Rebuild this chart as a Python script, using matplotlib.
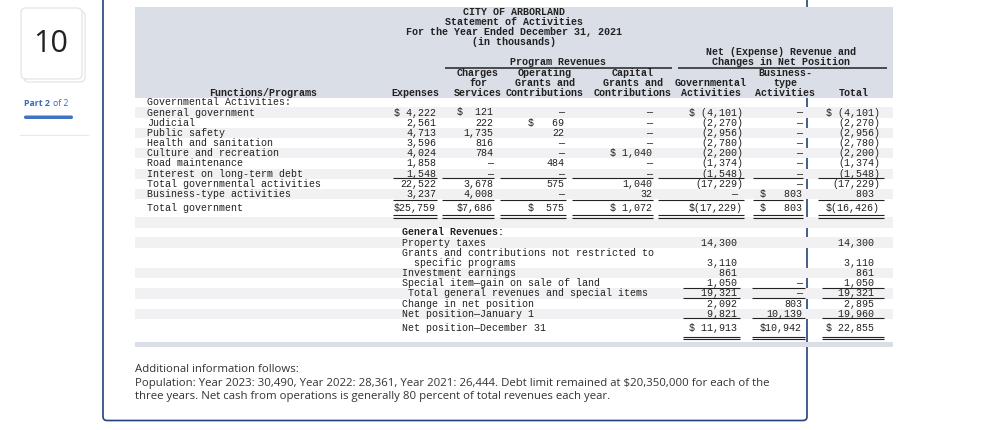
import matplotlib.pyplot as plt
from matplotlib.patches import Rectangle, FancyBboxPatch

# ---- statement data (in thousands); 0 shows as a dash, None as blank ----
title_lines = ["CITY OF ARBORLAND", "Statement of Activities",
               "For the Year Ended December 31, 2021", "(in thousands)"]

gov_labels = ["General government", "Judicial", "Public safety", "Health and sanitation",
              "Culture and recreation", "Road maintenance", "Interest on long-term debt"]
gov_expenses = [4222, 2561, 4713, 3596, 4024, 1858, 1548]
gov_charges = [121, 222, 1735, 816, 784, 0, 0]
gov_operating = [0, 69, 22, 0, 0, 484, 0]
gov_capital = [0, 0, 0, 0, 1040, 0, 0]
gov_net_gov = [-4101, -2270, -2956, -2780, -2200, -1374, -1548]
gov_net_bta = [0, 0, 0, 0, 0, 0, 0]
gov_net_total = [-4101, -2270, -2956, -2780, -2200, -1374, -1548]

total_gov_row = ["Total governmental activities", 22522, 3678, 575, 1040, -17229, 0, -17229]
bta_row = ["Business-type activities", 3237, 4008, 0, 32, 0, 803, 803]
grand_row = ["Total government", 25759, 7686, 575, 1072, -17229, 803, -16426]

gen_labels = ["Property taxes", "Grants and contributions not restricted to",
              "  specific programs", "Investment earnings",
              "Special item\u2014gain on sale of land",
              " Total general revenues and special items",
              "Change in net position", "Net position\u2014January 1",
              "Net position\u2014December 31"]
gen_gov = [14300, None, 3110, 861, 1050, 19321, 2092, 9821, 11913]
gen_bta = [None, None, None, None, 0, 0, 803, 10139, 10942]
gen_total = [14300, None, 3110, 861, 1050, 19321, 2895, 19960, 22855]

info_lines = ["Additional information follows:",
              "Population: Year 2023: 30,490, Year 2022: 28,361, Year 2021: 26,444. "
              "Debt limit remained at $20,350,000 for each of the",
              "three years. Net cash from operations is generally 80 percent of total revenues each year."]

# ---- layout ----
MONO = "Liberation Mono"
FS = 7.2
INK = "#222222"
HEAD_BG = "#dadee7"
STRIPE = "#f1f1f3"
NAVY = "#24437a"

# right edge (px), field width (chars), hanging-paren column
cols = [(436, 7, False), (493, 6, False), (564, 6, False), (652, 7, False),
        (743, 9, True), (802, 7, False), (880, 9, True)]
ul_upper = [(393, 437), (442, 494), (500, 566), (572, 653), (658, 744), (753, 803), (818, 884)]
ul_lower = [(683, 740), (752, 805), (822, 884)]


def fmt(v, width, dollar, paren):
    if v is None:
        return ""
    if v == 0:
        s = "\u2014"
    elif v < 0:
        s = "({:,})".format(-v)
    else:
        s = "{:,}".format(v)
    if paren and not s.endswith(")"):
        s += " "
    if dollar:
        s = "$" + s.rjust(width - 1)
    return s


fig = plt.figure(figsize=(9.87, 4.30), dpi=100)
ax = fig.add_axes([0, 0, 1, 1])
ax.set_xlim(0, 987)
ax.set_ylim(430, 0)
ax.axis("off")


def txt(x, y, s, ha="left", bold=False, **kw):
    ax.text(x, y, s, ha=ha, va="center", family=MONO, fontsize=FS, color=INK,
            fontweight="bold" if bold else "normal", zorder=5, **kw)


def hline(x0, x1, y, double=False, lw=0.8):
    for dy in ([0, 2.6] if double else [0]):
        ax.plot([x0, x1], [y + dy, y + dy], color=INK, lw=lw, zorder=5,
                solid_capstyle="butt")


def stripe(y):
    ax.add_patch(Rectangle((135, y - 5.1), 758, 10.2, color=STRIPE, lw=0, zorder=2))


# ---- left panel ----
ax.add_patch(FancyBboxPatch((24, 11), 61, 71, boxstyle="round,pad=0,rounding_size=5",
                            fc="white", ec="#e2e2e2", lw=0.8, zorder=1))
ax.add_patch(FancyBboxPatch((21, 8), 61, 71, boxstyle="round,pad=0,rounding_size=5",
                            fc="white", ec="#e2e2e2", lw=0.8, zorder=2))
ax.text(51, 44, "10", ha="center", va="center", family="Open Sans", fontsize=22,
        color="#222222", zorder=3)
ax.text(24, 104, "Part 2", ha="left", va="center", family="Open Sans", fontsize=6.3,
        fontweight="bold", color="#3a6cb4")
ax.text(53, 104, "of 2", ha="left", va="center", family="Open Sans", fontsize=6.3,
        color="#3a6cb4")
ax.add_patch(FancyBboxPatch((24, 115.5), 49, 3.5, boxstyle="round,pad=0,rounding_size=1.7",
                            fc="#3f74c4", ec="none"))
ax.plot([20, 88], [135, 135], color="#e8e8e8", lw=0.8)

# ---- card border (top edge off the picture) ----
ax.add_patch(FancyBboxPatch((103, -30), 704, 450.5, boxstyle="round,pad=0,rounding_size=4",
                            fc="none", ec=NAVY, lw=1.2, zorder=1))

# ---- header ----
ax.add_patch(Rectangle((135, 7), 758, 90.5, color=HEAD_BG, lw=0, zorder=2))
for i, line in enumerate(title_lines):
    txt(514, 12.3 + 10 * i, line, ha="center", bold=True)
txt(781, 51.7, "Net (Expense) Revenue and", ha="center", bold=True)
txt(781, 61.7, "Changes in Net Position", ha="center", bold=True)
txt(558, 61.7, "Program Revenues", ha="center", bold=True)
hline(445, 672, 67.7, lw=1.1)
hline(678, 887, 67.7, lw=1.1)
head_cols = [(263, ["", "", "Functions/Programs"]), (415, ["", "", "Expenses"]),
             (478, ["Charges", "for", "Services"]),
             (545, ["Operating", "Grants and", "Contributions"]),
             (633, ["Capital", "Grants and", "Contributions"]),
             (711, ["", "Governmental", "Activities"]),
             (785, ["Business-", "type", "Activities"]), (854, ["", "", "Total"])]
for cx, lines in head_cols:
    for i, line in enumerate(lines):
        if line:
            txt(cx, 73.3 + 10 * i, line, ha="center", bold=True)

# ---- upper section ----
LX = 147
pitch = 10.2
y_top = 102.3
txt(LX, y_top, "Governmental Activities:")
gov_cols = [gov_expenses, gov_charges, gov_operating, gov_capital,
            gov_net_gov, gov_net_bta, gov_net_total]
upper_rows = [[gov_labels[i]] + [c[i] for c in gov_cols] for i in range(len(gov_labels))]
upper_rows += [total_gov_row, bta_row]
seen = [False] * len(cols)
for r, row in enumerate(upper_rows):
    y = y_top + pitch * (r + 1)
    if r % 2 == 0:
        stripe(y)
    txt(LX, y, row[0])
    for c, (xr, w, paren) in enumerate(cols):
        v = row[c + 1]
        dollar = (not seen[c]) and v not in (None, 0)
        if dollar:
            seen[c] = True
        txt(xr, y, fmt(v, w, dollar, paren), ha="right")
y_last = y_top + pitch * len(upper_rows)
for x0, x1 in ul_upper:
    hline(x0, x1, y_top + pitch * (len(upper_rows) - 2) + 4.4)
    hline(x0, x1, y_last + 6.0)
y_grand = y_last + 13.6
txt(LX, y_grand, grand_row[0])
for c, (xr, w, paren) in enumerate(cols):
    txt(xr, y_grand, fmt(grand_row[c + 1], w, True, paren), ha="right")
for x0, x1 in ul_upper:
    hline(x0, x1, y_grand + 7.5, double=True)

# ---- general revenues ----
stripe(222.5)
GX = 402
y_gen = 232.3
txt(GX, y_gen, "General Revenues:", bold=True)
low_cols = [cols[4], cols[5], cols[6]]
shaded = [True, False, False, True, False, True, False, True, False]
rows_y = []
for r, label in enumerate(gen_labels):
    y = y_gen + pitch * (r + 1)
    if r == len(gen_labels) - 1:
        y += 4.2
    rows_y.append(y)
    if shaded[r]:
        stripe(y)
    txt(GX, y, label)
    last = r == len(gen_labels) - 1
    for (xr, w, paren), vals in zip(low_cols, [gen_gov, gen_bta, gen_total]):
        txt(xr, y, fmt(vals[r], w, last, paren), ha="right")
ul_rows = {4: [0, 1, 2], 5: [0, 1, 2], 7: [0, 1, 2]}
for r, which in ul_rows.items():
    for k in which:
        hline(ul_lower[k][0], ul_lower[k][1], rows_y[r] + 4.4)
for x0, x1 in ul_lower:
    hline(x0, x1, rows_y[-1] + 8.2, double=True)
ax.add_patch(Rectangle((135, 342), 758, 5, color=HEAD_BG, lw=0, zorder=2))

# ---- additional information ----
for i, line in enumerate(info_lines):
    ax.text(135, 370 + 13.5 * i, line, ha="left", va="center", family="Open Sans",
            fontsize=8.2, color="#333333", zorder=5)

fig.savefig("out.png", dpi=100)
